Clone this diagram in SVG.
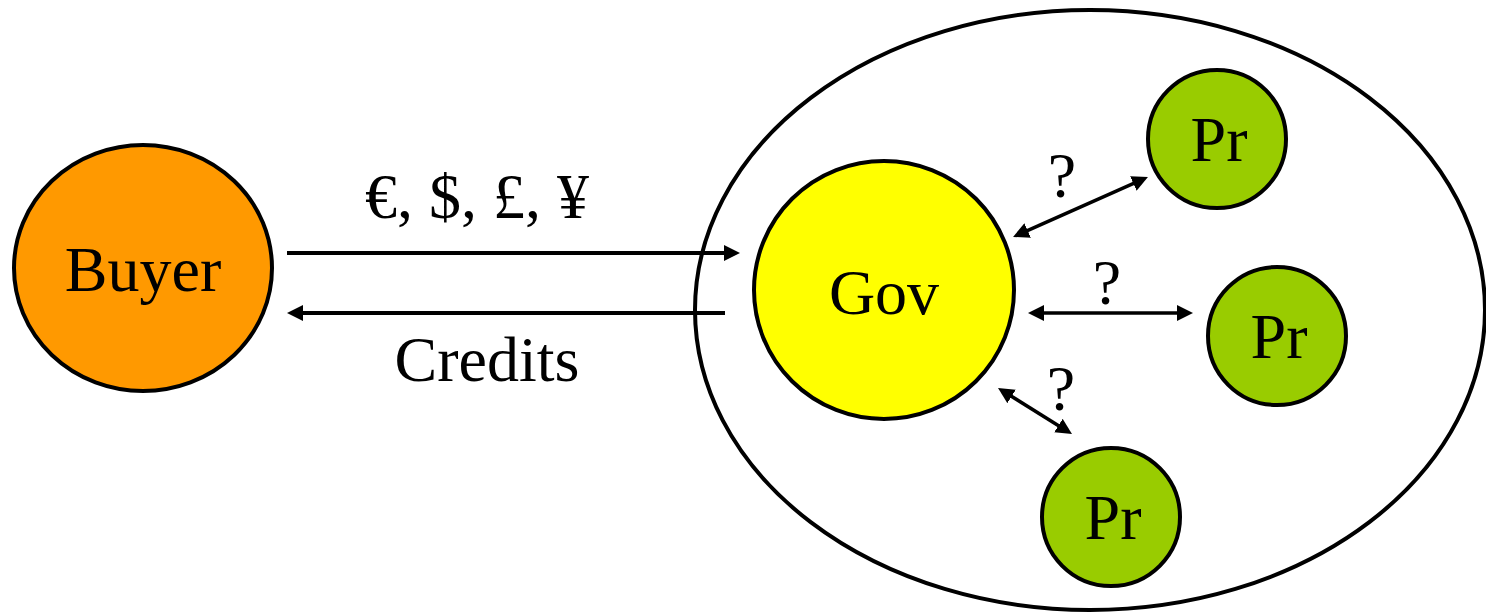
<svg xmlns="http://www.w3.org/2000/svg" width="1486" height="614" viewBox="0 0 1486 614">
<style>
text { font-family: "Liberation Serif", "Times New Roman", serif; font-size: 64px; fill: #000; text-anchor: middle; }
.node { stroke: #000; stroke-width: 4; }
.conn { stroke: #000; stroke-width: 4; fill: none; }
.thin { stroke-width: 3.5; }
</style>
<defs>
<marker id="ah" markerUnits="userSpaceOnUse" markerWidth="16" markerHeight="16" viewBox="0 0 16 16" refX="4" refY="8" orient="auto-start-reverse">
<path d="M0,0 L16,8 L0,16 z" fill="#000"/>
</marker>
</defs>
<g id="region">
<ellipse cx="1090" cy="310" rx="395" ry="300" fill="#fff" stroke="#000" stroke-width="4"/>
</g>
<g id="buyer">
<ellipse class="node" cx="143" cy="268" rx="129" ry="123" fill="#FF9900"/>
<text x="143" y="291">Buyer</text>
</g>
<g id="gov">
<ellipse class="node" cx="884" cy="290" rx="130" ry="129" fill="#FFFF00"/>
<text x="884" y="314">Gov</text>
</g>
<g id="pr1">
<circle class="node" cx="1217" cy="139" r="69" fill="#99CC00"/>
<text x="1219" y="161">Pr</text>
</g>
<g id="pr2">
<circle class="node" cx="1277" cy="336" r="69" fill="#99CC00"/>
<text x="1279" y="358">Pr</text>
</g>
<g id="pr3">
<circle class="node" cx="1111" cy="517" r="69" fill="#99CC00"/>
<text x="1113" y="539">Pr</text>
</g>
<g id="connectors">
<line class="conn" x1="287" y1="253" x2="728" y2="253" marker-end="url(#ah)"/>
<line class="conn" x1="725" y1="313" x2="299" y2="313" marker-end="url(#ah)"/>
<line class="conn thin" x1="1024" y1="232.1" x2="1137" y2="181.9" marker-start="url(#ah)" marker-end="url(#ah)"/>
<line class="conn thin" x1="1040" y1="313" x2="1181" y2="313" marker-start="url(#ah)" marker-end="url(#ah)"/>
<line class="conn thin" x1="1008.2" y1="394.3" x2="1061.8" y2="427.7" marker-start="url(#ah)" marker-end="url(#ah)"/>
<text x="477" y="218">€, $, £, ¥</text>
<text x="487" y="381">Credits</text>
<text x="1062" y="197">?</text>
<text x="1107" y="304">?</text>
<text x="1061" y="410">?</text>
</g>
</svg>
